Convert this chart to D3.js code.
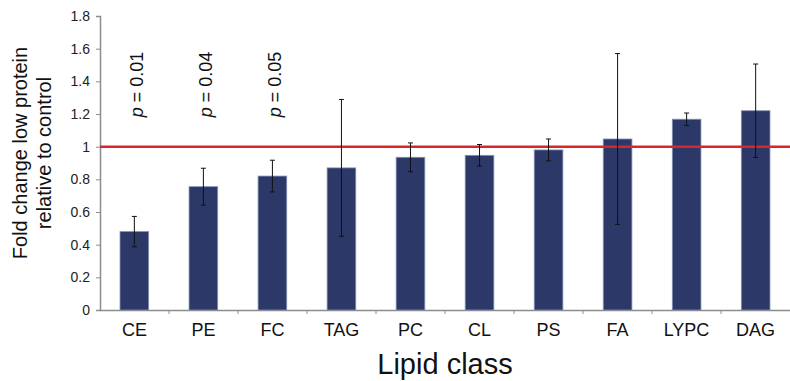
<!DOCTYPE html>
<html>
<head>
<meta charset="utf-8">
<script src="https://cdn.jsdelivr.net/npm/d3@7"></script>
<style>
  body { margin: 0; background: #fff; }
  text { font-family: "Liberation Sans", Arial, sans-serif; }
</style>
</head>
<body>
<div id="chartwrap"></div>
<script>
const WIDTH = 790;
const HEIGHT = 381;

const categories = ['CE', 'PE', 'FC', 'TAG', 'PC', 'CL', 'PS', 'FA', 'LYPC', 'DAG'];
const values = [0.48, 0.755, 0.82, 0.87, 0.935, 0.947, 0.98, 1.047, 1.168, 1.22];
const errors = [0.093, 0.113, 0.097, 0.419, 0.088, 0.066, 0.067, 0.523, 0.038, 0.286];
const pLabels = ['0.01', '0.04', '0.05'];
const yTicks = [0, 0.2, 0.4, 0.6, 0.8, 1, 1.2, 1.4, 1.6, 1.8];
const refLine = 1;

const chart = { left: 100, right: 790, top: 16, bottom: 310 };

const svg = d3.select('#chartwrap')
  .append('svg')
  .attr('width', WIDTH)
  .attr('height', HEIGHT)

const x = d3.scaleBand()
  .domain(categories)
  .range([chart.left, chart.right])
  .paddingInner(0.585)
  .paddingOuter(0.29)

const xTickScale = d3.scaleBand()
  .domain(categories)
  .range([chart.left, chart.right])

const y = d3.scaleLinear()
  .domain([0, 1.8])
  .range([chart.bottom, chart.top])

// y axis
const yAxis = d3.axisLeft(y)
  .tickValues(yTicks)
  .tickFormat(d3.format('~g'))
  .tickSize(4)
  .tickPadding(6)

const gy = svg.append('g')
  .attr('transform', `translate(${chart.left},0)`)
  .call(yAxis)
gy.select('.domain').attr('stroke', '#8c8c8c').attr('stroke-width', 1.5)
gy.selectAll('.tick line').attr('stroke', '#8c8c8c')
gy.selectAll('.tick text')
  .attr('font-size', 14)
  .attr('fill', '#222')
  .style('font-family', '"Liberation Sans", Arial, sans-serif')

// x axis
const xAxis = d3.axisBottom(xTickScale)
  .tickSize(0)
  .tickPadding(13)

const gx = svg.append('g')
  .attr('transform', `translate(0,${chart.bottom})`)
  .call(xAxis)
gx.select('.domain').attr('stroke', '#8c8c8c').attr('stroke-width', 1.5)
gx.selectAll('.tick text')
  .attr('font-size', 18)
  .attr('fill', '#111')
  .style('font-family', '"Liberation Sans", Arial, sans-serif')

// band boundary ticks
gx.selectAll('.sep')
  .data(categories.slice(1))
  .enter()
  .append('line')
  .attr('x1', d => xTickScale(d))
  .attr('x2', d => xTickScale(d))
  .attr('y1', 0)
  .attr('y2', 4)
  .attr('stroke', '#8c8c8c')

// bars
svg.selectAll('rect.bar')
  .data(categories)
  .enter()
  .append('rect')
  .attr('class', 'bar')
  .attr('x', d => x(d))
  .attr('width', x.bandwidth())
  .attr('y', (d, i) => y(values[i]))
  .attr('height', (d, i) => y(0) - y(values[i]))
  .attr('fill', '#2b3868')
  .attr('stroke', '#8890b4')
  .attr('stroke-width', 0.8)

// reference line
svg.append('line')
  .attr('x1', chart.left)
  .attr('x2', chart.right)
  .attr('y1', y(refLine))
  .attr('y2', y(refLine))
  .attr('stroke', '#d9262b')
  .attr('stroke-width', 2.5)

// error bars
const eb = svg.selectAll('g.err')
  .data(categories)
  .enter()
  .append('g')
  .attr('class', 'err')
  .attr('stroke', '#111')
  .attr('stroke-width', 1)

const cx = d => x(d) + x.bandwidth() / 2

eb.append('line')
  .attr('x1', cx).attr('x2', cx)
  .attr('y1', (d, i) => y(values[i] + errors[i]))
  .attr('y2', (d, i) => y(values[i] - errors[i]))
eb.append('line')
  .attr('x1', d => cx(d) - 2.5).attr('x2', d => cx(d) + 2.5)
  .attr('y1', (d, i) => y(values[i] + errors[i]))
  .attr('y2', (d, i) => y(values[i] + errors[i]))
eb.append('line')
  .attr('x1', d => cx(d) - 2.5).attr('x2', d => cx(d) + 2.5)
  .attr('y1', (d, i) => y(values[i] - errors[i]))
  .attr('y2', (d, i) => y(values[i] - errors[i]))

// p values
const pt = svg.selectAll('text.pval')
  .data(pLabels)
  .enter()
  .append('text')
  .attr('class', 'pval')
  .attr('transform', (d, i) => `translate(${cx(categories[i]) + 9},${y(1.18)}) rotate(-90)`)
  .attr('font-size', 18)
  .attr('fill', '#111')
pt.append('tspan').attr('font-style', 'italic').text('p')
pt.append('tspan').text(d => ' = ' + d)

// axis titles
const yl = svg.append('text')
  .attr('transform', 'translate(0,153) rotate(-90)')
  .attr('text-anchor', 'middle')
  .attr('font-size', 20)
  .attr('fill', '#111')
yl.append('tspan').attr('x', 0).attr('y', 27).text('Fold change low protein')
yl.append('tspan').attr('x', 0).attr('y', 51).text('relative to control')

svg.append('text')
  .attr('x', (chart.left + chart.right) / 2)
  .attr('y', 374)
  .attr('text-anchor', 'middle')
  .attr('font-size', 29)
  .attr('fill', '#111')
  .text('Lipid class')
</script>
</body>
</html>
